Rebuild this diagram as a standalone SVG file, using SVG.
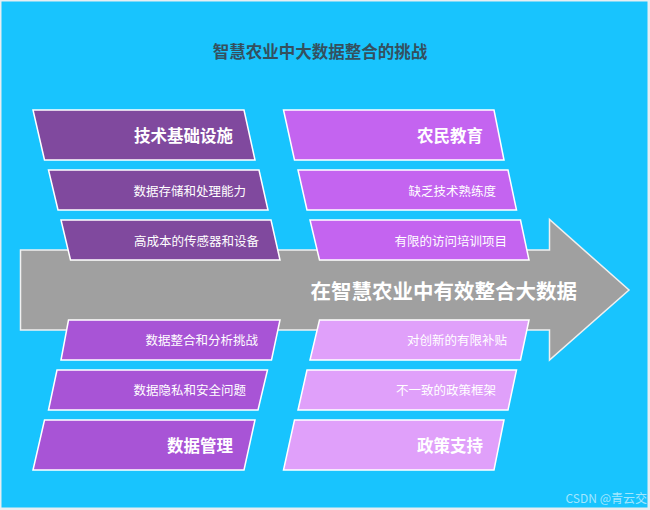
<svg xmlns="http://www.w3.org/2000/svg" width="650" height="510" viewBox="0 0 650 510">
<style>
text{font-family:"Noto Sans CJK SC","Liberation Sans",sans-serif;fill:#ffffff;text-anchor:end;dominant-baseline:central}
.box{stroke:#ffffff;stroke-width:1.5;stroke-linejoin:miter}
.lt{fill:#80499E}
.lb{fill:#A854D6}
.rt{fill:#C464F0}
.rb{fill:#E0A0FA}
.hd{font-size:16.5px;font-weight:bold}
.sm{font-size:12.5px}
</style>
<rect x="0" y="0" width="650" height="510" fill="#E6EEF2"/>
<rect x="1.5" y="1.5" width="646" height="506" fill="#18C4FE"/>
<text id="title" x="320" y="51" style="font-size:16.5px;font-weight:bold;fill:#34505E;text-anchor:middle">智慧农业中大数据整合的挑战</text>
<g id="connectors">
<g id="spine">
<polygon points="20.5,250 549.5,250 549.5,219.5 629,290 549.5,360 549.5,330 20.5,330" fill="#A0A0A0" stroke="#F0F0F0" stroke-width="1.5"/>
<text x="577" y="290" style="font-size:20.5px;font-weight:bold">在智慧农业中有效整合大数据</text>
</g>
</g>
<g id="tech">
<polygon class="box lt" points="33,110 244,110 255,160 44.5,160"/>
<text class="hd" x="233" y="135">技术基础设施</text>
</g>
<g id="tech1">
<polygon class="box lt" points="48.5,170 259,170 268,210 58,210"/>
<text class="sm" x="246" y="190">数据存储和处理能力</text>
</g>
<g id="tech2">
<polygon class="box lt" points="61,220 271,220 280,260 70.5,260"/>
<text class="sm" x="259" y="240">高成本的传感器和设备</text>
</g>
<g id="data1">
<polygon class="box lb" points="68.5,320 280,320 271.5,360 61,360"/>
<text class="sm" x="258" y="339.5">数据整合和分析挑战</text>
</g>
<g id="data2">
<polygon class="box lb" points="57,370 267.5,370 258,410 48.5,410"/>
<text class="sm" x="246" y="389">数据隐私和安全问题</text>
</g>
<g id="data">
<polygon class="box lb" points="44.5,420 255,420 244,470 33,470"/>
<text class="hd" x="233" y="444.5">数据管理</text>
</g>
<g id="edu">
<polygon class="box rt" points="283.5,110 494,110 504,160 294.5,160"/>
<text class="hd" x="483" y="135">农民教育</text>
</g>
<g id="edu1">
<polygon class="box rt" points="298,170 508,170 516.5,210 307,210"/>
<text class="sm" x="496" y="190">缺乏技术熟练度</text>
</g>
<g id="edu2">
<polygon class="box rt" points="310,220 520.5,220 529,260 319.5,260"/>
<text class="sm" x="507" y="240">有限的访问培训项目</text>
</g>
<g id="policy1">
<polygon class="box rb" points="319.5,320 529,320 520.5,360 310,360"/>
<text class="sm" x="507" y="339.5">对创新的有限补贴</text>
</g>
<g id="policy2">
<polygon class="box rb" points="307,370 516.5,370 508,410 298,410"/>
<text class="sm" x="496" y="389">不一致的政策框架</text>
</g>
<g id="policy">
<polygon class="box rb" points="294.5,420 504,420 494,470 283.5,470"/>
<text class="hd" x="483" y="444.5">政策支持</text>
</g>
<text id="watermark" x="647" y="497" style="font-size:12px;fill:#ffffff;fill-opacity:0.6">CSDN @青云交</text>
</svg>
